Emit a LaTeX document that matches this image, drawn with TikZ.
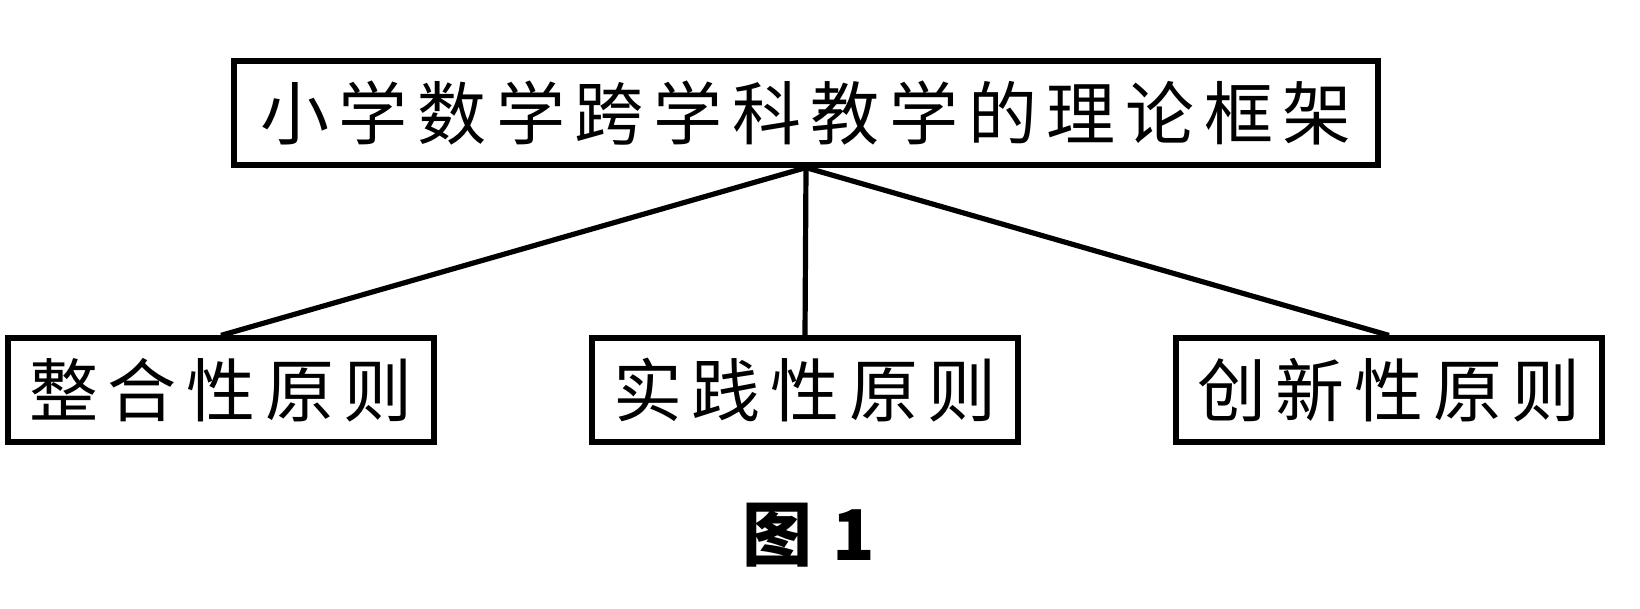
\documentclass[tikz,border=0pt]{standalone}
\usepackage{fontspec}
\newfontfamily\cjk[LetterSpace=14]{Noto Sans CJK SC}
\newfontfamily\cjkcap{Noto Sans CJK SC}
\tikzset{
  caja/.style={draw,line width=2.6pt,inner sep=0pt,minimum height=52pt,
    font=\cjk\fontsize{34.5pt}{34.5pt}\selectfont},
  rama/.style={line width=2.6pt}
}
\begin{document}
\begin{tikzpicture}[x=0.5pt,y=-0.5pt]
  \useasboundingbox (0,0) rectangle (1640,609);
  % Marco teorico
  \node[caja,minimum width=572pt] (marco) at (806,113) {小学数学跨学科教学的理论框架};
  % Principios
  \node[caja,minimum width=213pt] (integ) at (221,390) {整合性原则};
  \node[caja,minimum width=213pt] (pract) at (805,390) {实践性原则};
  \node[caja,minimum width=213pt] (innov) at (1389,390) {创新性原则};
  \draw[rama] (marco.south) -- (integ.north);
  \draw[rama] (marco.south) -- (pract.north);
  \draw[rama] (marco.south) -- (innov.north);
  % Pie
  \node[font=\cjkcap\bfseries\fontsize{35pt}{35pt}\selectfont] (pie) at (809,535) {图\hspace{10pt}1};
\end{tikzpicture}
\end{document}
